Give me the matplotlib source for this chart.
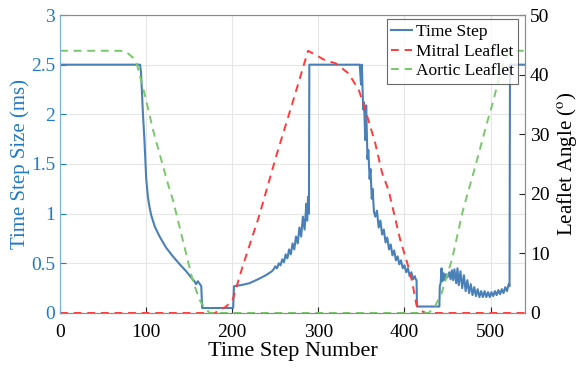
import matplotlib
matplotlib.use("Agg")
import matplotlib.pyplot as plt

plt.rcParams['font.family'] = ['Liberation Serif', 'DejaVu Serif']
plt.rcParams['mathtext.fontset'] = 'stix'

# time step size (ms), blue line
step_x = [0, 93, 94, 95, 96, 97, 98, 100, 102, 104, 106, 110, 115.6, 123, 131, 139, 146.5, 152, 156, 158,
          160, 164, 165, 201, 202, 210, 220, 230, 239, 246,
          248, 250, 252, 254, 256, 258, 260, 262, 264, 266, 268, 270, 272, 274, 276, 278,
          280, 282, 284, 286, 287, 288, 289, 289.5,
          348, 349.5, 350.5, 352, 353, 354.5, 355.5, 357, 358, 359.5, 360.5, 362, 363, 364.5,
          366, 368, 370, 372, 374, 376, 378, 380, 382, 384, 386, 388, 390, 392, 394, 396,
          398, 400, 402, 404, 406, 408, 410, 412, 413, 414, 414.5, 440.5,
          441, 442, 443, 444, 445.5, 447, 448.5, 450, 452, 453.5, 455, 456.5, 458, 460,
          461.5, 463, 465, 467, 469, 471, 473, 475, 477, 479, 481, 483, 485, 487, 489, 491,
          493, 495, 497, 499, 501, 503, 505, 507, 509, 511, 513, 515, 517, 519, 521, 522,
          522.5, 540]
step_y = [2.5, 2.5, 2.42, 2.25, 2.05, 1.9, 1.74, 1.36, 1.17, 1.06, 0.98, 0.87, 0.77, 0.66, 0.57, 0.49, 0.42, 0.36, 0.32, 0.29,
          0.32, 0.27, 0.05, 0.05, 0.27, 0.28, 0.30, 0.34, 0.38, 0.42,
          0.44, 0.47, 0.45, 0.50, 0.48, 0.54, 0.51, 0.59, 0.55, 0.64, 0.59, 0.70, 0.64, 0.77, 0.70, 0.86,
          0.77, 0.97, 0.84, 1.10, 0.93, 1.17, 1.00, 2.5,
          2.5, 2.30, 2.50, 2.05, 2.12, 1.74, 2.09, 1.55, 1.64, 1.35, 1.45, 1.15, 1.25, 1.02,
          0.97, 1.03, 0.86, 0.93, 0.79, 0.84, 0.71, 0.76, 0.64, 0.69, 0.58, 0.63, 0.53, 0.57, 0.49, 0.53,
          0.45, 0.48, 0.41, 0.45, 0.37, 0.41, 0.34, 0.37, 0.34, 0.33, 0.065, 0.065,
          0.27, 0.30, 0.45, 0.32, 0.40, 0.33, 0.39, 0.36, 0.41, 0.34, 0.43, 0.33, 0.44, 0.30,
          0.45, 0.28, 0.42, 0.25, 0.38, 0.22, 0.33, 0.20, 0.29, 0.18, 0.26, 0.17, 0.24, 0.16, 0.22, 0.16,
          0.22, 0.16, 0.21, 0.16, 0.21, 0.17, 0.22, 0.18, 0.23, 0.19, 0.24, 0.20, 0.26, 0.22, 0.29, 0.27,
          2.5, 2.5]

# mitral leaflet angle (deg), red dashed
mitral_x = [0, 180, 185, 192, 200, 212, 231, 252, 270, 288, 308, 320, 335, 347, 354.5,
            366, 374, 381.5, 395, 404, 408.5, 414, 420, 425, 540]
mitral_y = [0, 0, 0.5, 1.0, 2.0, 7.8, 16.2, 26.8, 35.3, 44.0, 42.4, 41.9, 40.2, 37.4, 34.1,
            28.5, 23.5, 20.6, 12.3, 8.0, 5.5, 1.3, 0.3, 0, 0]

# aortic leaflet angle (deg), green dashed
aortic_x = [0, 69, 76, 81, 85, 89, 93, 100, 108, 125, 131, 154, 162, 168, 174, 428, 435, 443,
            455, 468, 483, 495, 503, 509, 515, 520, 528, 540]
aortic_y = [44, 44, 43.9, 43.3, 42.8, 41.9, 39.6, 35.7, 30.7, 21.8, 19.0, 5.5, 2.2, 0.8, 0, 0, 1.0, 3.3,
            8.9, 17.3, 25.0, 31.5, 35.5, 39.0, 42.0, 43.5, 44, 44]

blue_lbl = '#1f7bc8'
fig = plt.figure(figsize=(5.83, 3.68), dpi=100)
ax = fig.add_axes([0.103, 0.1495, 0.7976, 0.8097])
ax2 = ax.twinx()

l1, = ax.plot(step_x, step_y, color='#4a80b8', lw=1.5, label='Time Step')
l2, = ax2.plot(mitral_x, mitral_y, color='#ff3b3b', lw=1.4, ls=(0, (4, 3)), label='Mitral Leaflet')
l3, = ax2.plot(aortic_x, aortic_y, color='#78c86a', lw=1.4, ls=(0, (4, 3)), label='Aortic Leaflet')

ax.set_xlim(0, 540)
ax.set_ylim(0, 3)
ax2.set_ylim(0, 50)
ax.set_xticks(range(0, 501, 100))
ax.set_yticks([0, 0.5, 1, 1.5, 2, 2.5, 3])
ax.set_yticklabels(['0', '0.5', '1', '1.5', '2', '2.5', '3'])
ax2.set_yticks(range(0, 51, 10))

ax.grid(True, color='#e6e6e6', lw=0.8)
ax.set_axisbelow(True)

ax.tick_params(axis='x', direction='in', labelsize=14, colors='#262626', length=4, labelcolor='black', pad=8)
ax.tick_params(axis='y', direction='in', labelsize=14, colors=blue_lbl, length=4)
ax2.tick_params(axis='y', direction='in', labelsize=14, colors='#262626', length=4, labelcolor='black')

ax.set_xlabel('Time Step Number', fontsize=16, labelpad=1)
ax.set_ylabel('Time Step Size (ms)', fontsize=15, color=blue_lbl, labelpad=1)
ax2.set_ylabel('Leaflet Angle ($^{\\mathrm{o}}$)', fontsize=15, labelpad=4)

for a in (ax, ax2):
    for s in ['top', 'right', 'bottom']:
        a.spines[s].set_color('#8c8c8c')
    a.spines['left'].set_color('#7db3e3')

leg = ax2.legend(handles=[l1, l2, l3], loc='upper right', bbox_to_anchor=(0.985, 0.985),
                 fontsize=12.5, frameon=True, fancybox=False, edgecolor='#444444',
                 handlelength=1.2, handletextpad=0.2, borderpad=0.25, labelspacing=0.2,
                 borderaxespad=0)
leg.get_frame().set_linewidth(0.8)

fig.savefig('out.png', dpi=100)
